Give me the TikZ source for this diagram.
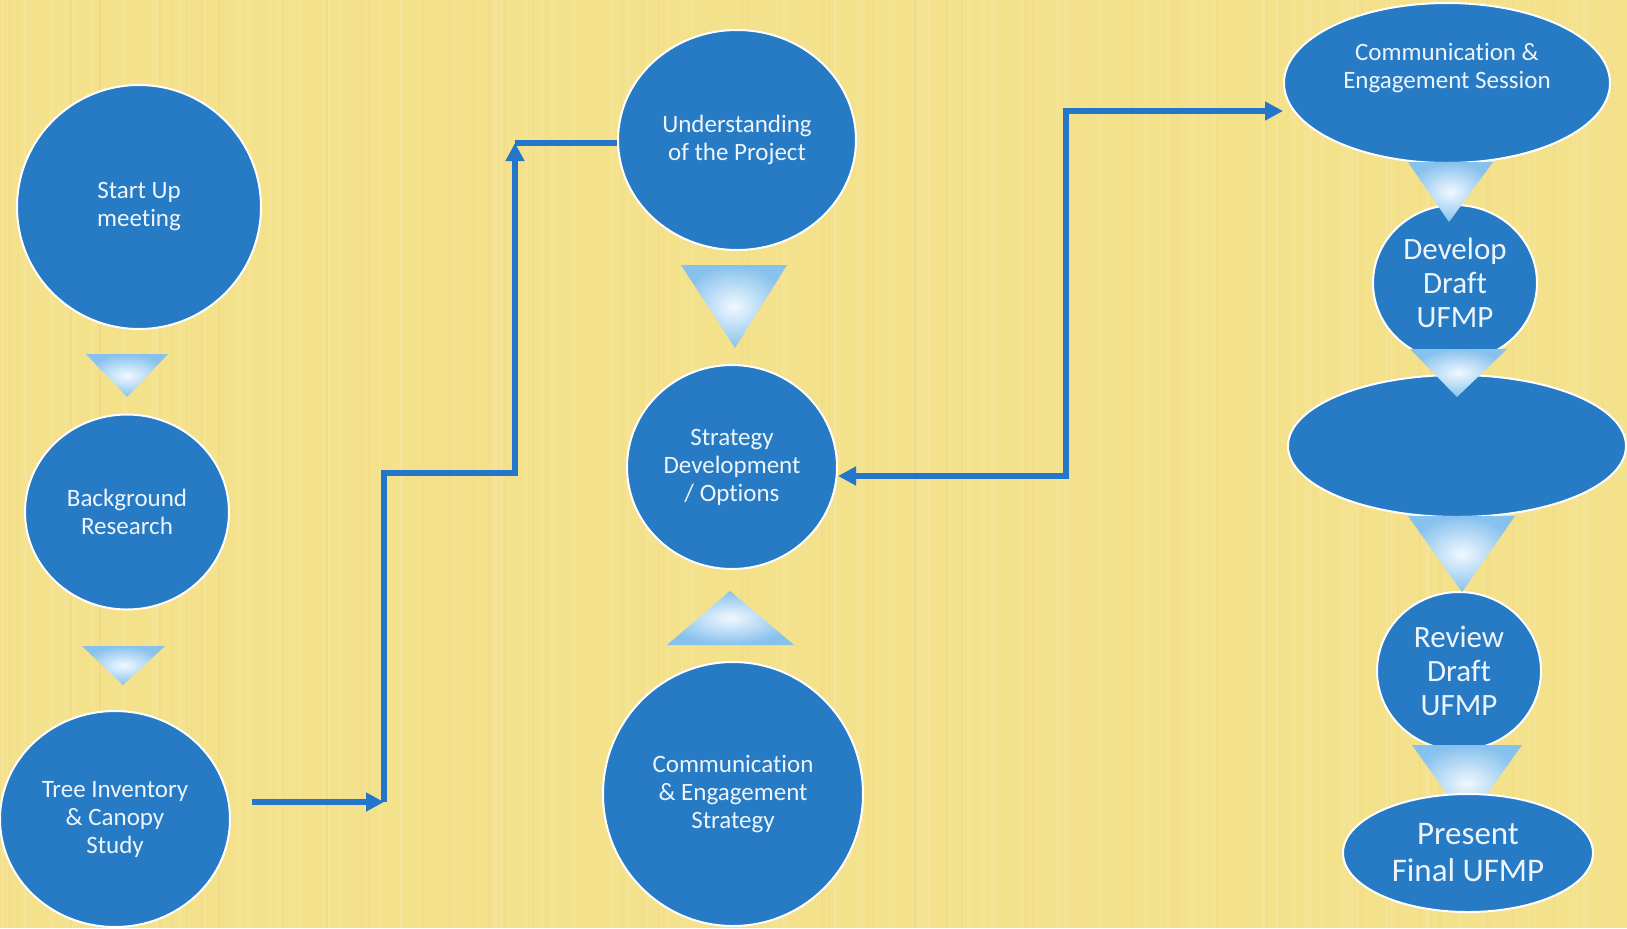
\documentclass[tikz,border=0pt]{standalone}
\usepackage{fontspec}
\setmainfont{Carlito}[Ligatures=NoCommon]
\usetikzlibrary{arrows.meta,shapes.geometric}
\definecolor{bgy}{RGB}{243,225,140}
\definecolor{bgl}{RGB}{250,238,178}
\definecolor{bgd}{RGB}{232,198,108}
\definecolor{ublue}{RGB}{38,123,196}
\definecolor{lblue}{RGB}{36,118,202}
\definecolor{tribl}{RGB}{135,193,237}
\definecolor{trin}{RGB}{240,248,255}
\definecolor{txtc}{RGB}{238,244,251}
\tikzset{
  blob/.style={ellipse, fill=ublue, draw=white, line width=1pt, inner sep=0pt, text=txtc, align=center},
  fs/.style={font=\fontsize{12.5}{14}\selectfont},
  fb/.style={font=\fontsize{15.5}{17}\selectfont},
  fp/.style={font=\fontsize{16.5}{18.5}\selectfont},
  conn/.style={draw=lblue, line width=2.6pt},
  tri/.style={inner color=trin, outer color=tribl},
  head/.style={-{Triangle[length=9pt,width=9pt]}},
  dhead/.style={{Triangle[length=9pt,width=9pt]}-{Triangle[length=9pt,width=9pt]}}
}
\begin{document}
\begin{tikzpicture}[x=0.5pt,y=-0.5pt]
% background
\fill[bgy] (0,0) rectangle (1627,928);
\useasboundingbox (0,0) rectangle (1627,928);
\pgfmathsetseed{11}
\foreach \i in {1,...,140}{
  \pgfmathsetmacro{\xx}{rnd*1627}
  \pgfmathsetmacro{\ww}{0.3+rnd*2.5}
  \draw[bgl, line width=\ww pt, opacity=0.18] (\xx,0) -- (\xx,928);
}
\foreach \i in {1,...,90}{
  \pgfmathsetmacro{\xx}{rnd*1627}
  \pgfmathsetmacro{\ww}{0.2+rnd*0.8}
  \draw[bgd, line width=\ww pt, opacity=0.15] (\xx,0) -- (\xx,928);
}

% left column
\node[blob, fs, minimum width=122pt, minimum height=122pt] (start) at (139,207) {Start Up\\meeting};
\node[blob, fs, minimum width=102pt, minimum height=97.5pt] (bgr) at (127,512) {Background\\Research};
\node[blob, fs, minimum width=115pt, minimum height=108pt] (tree) at (115,819) {Tree Inventory\\\& Canopy\\Study};

% middle column
\node[blob, fs, minimum width=119pt, minimum height=110pt] (und) at (737,140) {Understanding\\of the Project};
\node[blob, fs, minimum width=105pt, minimum height=102pt] (strat) at (732,467) {Strategy\\Development\\/ Options};
\node[blob, fs, minimum width=130pt, minimum height=132pt] (cstr) at (733,794) {Communication\\\& Engagement\\Strategy};

% right column
\node[blob, minimum width=163pt, minimum height=80pt] (sess) at (1447,83) {};
\node[fs, text=txtc, align=center, inner sep=0pt] (sesstxt) at ([yshift=7.5pt]sess.center) {Communication \&\\Engagement Session};
\node[blob, fb, minimum width=82pt, minimum height=78pt] (dev) at (1455,283) {Develop\\Draft\\UFMP};
\node[blob, minimum width=169pt, minimum height=71pt] (blank) at (1457,446) {};
\node[blob, fb, minimum width=82pt, minimum height=79pt] (rev) at (1459,671) {Review\\Draft\\UFMP};

% triangles
\shade[tri] (86,354) -- (168,354) -- (127,397) -- cycle;
\shade[tri] (82,646) -- (165,646) -- (123,685) -- cycle;
\shade[tri] (681,265) -- (787,265) -- (735,348) -- cycle;
\shade[tri] (667,645) -- (794,645) -- (730,591) -- cycle;
\shade[tri] (1408,162) -- (1493,162) -- (1449,222) -- cycle;
\shade[tri] (1410,349) -- (1507,349) -- (1457,397) -- cycle;
\shade[tri] (1408,516) -- (1515,516) -- (1462,592) -- cycle;
\shade[tri] (1412,745) -- (1522,745) -- (1467,822) -- cycle;

\node[blob, fp, minimum width=125pt, minimum height=59pt] (pres) at (1468,853) {Present\\Final UFMP};

% connectors
\coordinate (a0) at (252,802);
\coordinate (a1) at (384,802);
\coordinate (a2) at (384,473);
\coordinate (a3) at (515,473);
\coordinate (a4) at (515,143);
\draw[conn, head] (a0) -- (a1);
\draw[conn, head] (a1) -- (a2) -- (a3) -- (a4);
\draw[conn] (a4) -- (a4 -| und.west);

\coordinate (b1) at (1066,476);
\coordinate (b2) at (1066,111);
\draw[conn, dhead] (b1 -| strat.east) -- (b1) -- (b2) -- (b2 -| sess.west);
\end{tikzpicture}
\end{document}
